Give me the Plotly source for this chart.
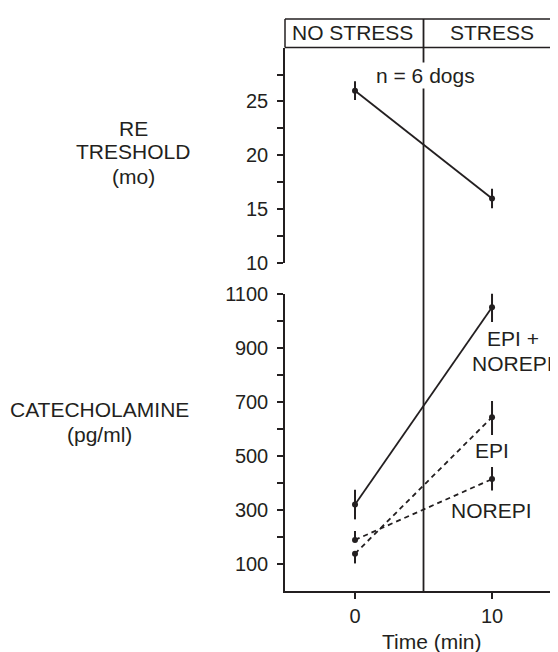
import plotly.graph_objects as go

# ---- data ----
time = [0, 10]
re_threshold = [26, 16]
re_err = [0.87, 0.9]
epi_norepi = [320, 1050]
epi_norepi_err = [55, 55]
epi = [138, 643]
epi_err_plus = [8, 60]
epi_err_minus = [36, 66]
norepi = [189, 414]
norepi_err_plus = [33, 45]
norepi_err_minus = [3, 42]

re_ticks = [10, 12.5, 15, 17.5, 20, 22.5, 25, 27.5]
re_ticktext = ["10", "", "15", "", "20", "", "25", ""]
cat_ticks = [100, 200, 300, 400, 500, 600, 700, 800, 900, 1000, 1100]
cat_ticktext = ["100", "", "300", "", "500", "", "700", "", "900", "", "1100"]

INK = "#231f20"
FONT = "Liberation Sans, Arial, sans-serif"
FS = 21
TFS = 20

fig = go.Figure()

def add_series(y, err_plus, err_minus, yaxis, dash):
    fig.add_trace(go.Scatter(
        x=time, y=y, yaxis=yaxis, mode="lines+markers",
        line=dict(color=INK, width=1.8, dash=dash),
        marker=dict(color=INK, size=6),
        error_y=dict(type="data", array=err_plus, arrayminus=err_minus,
                     symmetric=False, visible=True, color=INK,
                     thickness=2, width=0),
        showlegend=False, cliponaxis=False,
    ))

add_series(re_threshold, re_err, re_err, "y2", "solid")
add_series(epi_norepi, epi_norepi_err, epi_norepi_err, "y", "solid")
add_series(epi, epi_err_plus, epi_err_minus, "y", "5px,4px")
add_series(norepi, norepi_err_plus, norepi_err_minus, "y", "5px,4px")

# page has an 8px body margin; plot area spans screen y 10..591 (581 px)
def py(ys):
    return (591 - ys) / 581

def px(xs):
    return (xs - 285) / 281

box_bottom = py(39)

shapes = [
    dict(type="line", xref="paper", yref="paper", x0=0, x1=1, y0=1, y1=1,
         line=dict(color=INK, width=1.5)),
    dict(type="line", xref="paper", yref="paper", x0=0, x1=1, y0=box_bottom, y1=box_bottom,
         line=dict(color=INK, width=1.5)),
    dict(type="line", xref="paper", yref="paper", x0=0, x1=0, y0=box_bottom, y1=1,
         line=dict(color=INK, width=1.5)),
    dict(type="line", xref="x", yref="paper", x0=5, x1=5, y0=0, y1=1,
         line=dict(color=INK, width=1.8), layer="below"),
]

ann = []
def text(x, y, t, xref="x", yref="y", **kw):
    ann.append(dict(x=x, y=y, xref=xref, yref=yref, text=t, showarrow=False,
                    xanchor="center", yanchor="middle",
                    font=dict(family=FONT, size=FS, color=INK), **kw))

text(-0.18, py(24.2), "NO STRESS", yref="paper")
text(9.98, py(24.2), "STRESS", yref="paper")
text(5.15, py(67), "n = 6 dogs", yref="paper", bgcolor="white")
text(11.53, py(335), "EPI +", yref="paper")
text(11.5, py(360), "NOREPI", yref="paper")
text(10.0, py(448), "EPI", yref="paper")
text(9.93, py(509), "NOREPI", yref="paper")
text(px(133), py(121), "RE", xref="paper", yref="paper")
text(px(133), py(145), "TRESHOLD", xref="paper", yref="paper")
text(px(133), py(170), "(mo)", xref="paper", yref="paper")
text(px(99), py(407), "CATECHOLAMINE", xref="paper", yref="paper")
text(px(99), py(432), "(pg/ml)", xref="paper", yref="paper")
text(px(432), py(642), "Time (min)", xref="paper", yref="paper")

axis_common = dict(showline=True, linecolor=INK, linewidth=1.5, ticks="outside",
                   ticklen=6, tickwidth=1.5, tickcolor=INK, showgrid=False,
                   zeroline=False, tickfont=dict(family=FONT, size=TFS, color=INK))

fig.update_layout(
    width=558, height=652,
    margin=dict(l=277, r=0, t=2, b=69),
    paper_bgcolor="white", plot_bgcolor="white",
    font=dict(family=FONT, size=FS, color=INK),
    xaxis=dict(range=[-5.11, 15.40], tickvals=time, ticktext=["0", "10"],
               anchor="y", ticklabelstandoff=0, **axis_common),
    yaxis=dict(domain=[0, py(289)], range=[0, 1100],
               tickvals=cat_ticks, ticktext=cat_ticktext,
               ticklabelstandoff=5, **axis_common),
    yaxis2=dict(domain=[py(258), box_bottom], range=[10, 30],
                tickvals=re_ticks, ticktext=re_ticktext, anchor="x",
                ticklabelstandoff=5, **axis_common),
    shapes=shapes, annotations=ann,
)

fig.write_html("out.html")
